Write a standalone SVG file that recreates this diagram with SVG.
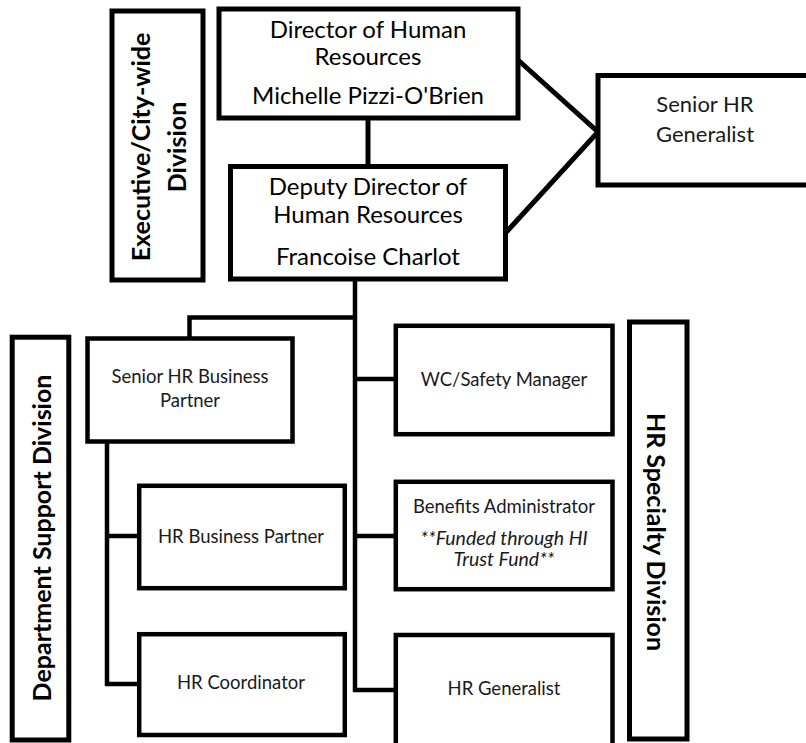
<svg xmlns="http://www.w3.org/2000/svg" width="806" height="743" viewBox="0 0 806 743">
<style>
.box{fill:#fff;stroke:#000;stroke-width:5}
.sbox{fill:#fff;stroke:#000;stroke-width:4.5}
.ln{fill:none;stroke:#000;stroke-width:5}
.sln{fill:none;stroke:#000;stroke-width:4.5}
text{font-family:Lato,"Open Sans",sans-serif;fill:#000;text-anchor:middle}
.big{font-size:24px}
.sm{font-size:18.5px;fill:#1a1a1a}
.mid{font-size:22px;fill:#1a1a1a}
.it{font-size:19.5px;font-style:italic;fill:#1a1a1a}
.div{font-size:25px;font-weight:bold}
</style>
<rect width="806" height="743" fill="#fff"/>
<g id="connectors">
<line class="ln" x1="368" y1="118" x2="368" y2="167"/>
<polyline class="ln" points="518,60 598,132 505.5,233"/>
<line class="sln" x1="355" y1="279" x2="355" y2="692"/>
<polyline class="sln" points="355,317.5 189.5,317.5 189.5,338.5"/>
<line class="sln" x1="107" y1="441.5" x2="107" y2="686"/>
<line class="sln" x1="105" y1="536" x2="139" y2="536"/>
<line class="sln" x1="105" y1="684" x2="139" y2="684"/>
<line class="sln" x1="355" y1="379" x2="396" y2="379"/>
<line class="sln" x1="355" y1="536" x2="396" y2="536"/>
<line class="sln" x1="353" y1="690" x2="396" y2="690"/>
</g>
<g id="exec-division">
<rect class="box" x="112" y="11" width="91" height="269"/>
<text class="div" transform="translate(150,147) rotate(-90)">Executive/City-wide</text>
<text class="div" transform="translate(186,147) rotate(-90)">Division</text>
</g>
<g id="director">
<rect class="box" x="219" y="9" width="299" height="109"/>
<text class="big" x="368" y="38">Director of Human</text>
<text class="big" x="368" y="65">Resources</text>
<text class="big" x="368" y="104">Michelle Pizzi-O'Brien</text>
</g>
<g id="deputy">
<rect class="box" x="230.5" y="166.5" width="275" height="112.5"/>
<text class="big" x="368" y="195">Deputy Director of</text>
<text class="big" x="368" y="223">Human Resources</text>
<text class="big" x="368" y="265">Francoise Charlot</text>
</g>
<g id="senior-hr-generalist">
<rect class="box" x="598" y="75.5" width="215" height="109.5"/>
<text class="mid" x="705" y="112">Senior HR</text>
<text class="mid" x="705" y="142">Generalist</text>
</g>
<g id="dept-support-division">
<rect class="box" x="12.2" y="337.2" width="56.6" height="402.8"/>
<text class="div" transform="translate(50.5,538) rotate(-90)">Department Support Division</text>
</g>
<g id="senior-hr-bp">
<rect class="sbox" x="87.5" y="338.5" width="205" height="103"/>
<text class="sm" x="190" y="383">Senior HR Business</text>
<text class="sm" x="190" y="406.5">Partner</text>
</g>
<g id="hr-bp">
<rect class="sbox" x="139.2" y="485.8" width="205.6" height="102.4"/>
<text class="sm" x="241" y="543.3">HR Business Partner</text>
</g>
<g id="hr-coordinator">
<rect class="sbox" x="139.2" y="634.2" width="205.6" height="100.8"/>
<text class="sm" x="241" y="689.3">HR Coordinator</text>
</g>
<g id="wc-safety">
<rect class="sbox" x="395.8" y="325.8" width="216.7" height="108.4"/>
<text class="sm" x="504" y="386">WC/Safety Manager</text>
</g>
<g id="benefits">
<rect class="sbox" x="395.8" y="481.8" width="216.7" height="107.4"/>
<text class="sm" x="504" y="513.3">Benefits Administrator</text>
<text class="it" x="504" y="545">**Funded through HI</text>
<text class="it" x="504" y="566">Trust Fund**</text>
</g>
<g id="hr-generalist">
<rect class="sbox" x="395.8" y="635" width="216.7" height="120"/>
<text class="sm" x="504" y="695">HR Generalist</text>
</g>
<g id="hr-specialty-division">
<rect class="box" x="629.5" y="322" width="57.5" height="417"/>
<text class="div" transform="translate(647,532) rotate(90)">HR Specialty Division</text>
</g>
</svg>
